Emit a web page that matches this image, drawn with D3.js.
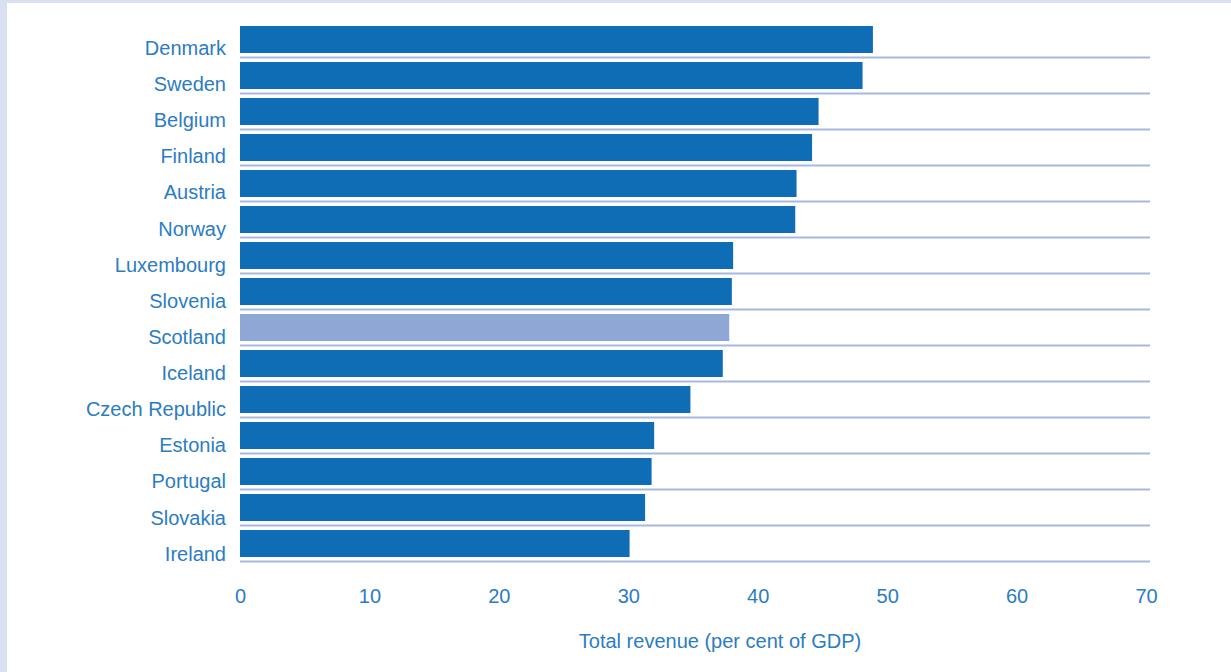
<!DOCTYPE html>
<html>
<head>
<meta charset="utf-8">
<script src="https://cdn.jsdelivr.net/npm/d3@7"></script>
<style>
  html, body { margin: 0; padding: 0; background: #ffffff; }
  svg { display: block; }
  text { font-family: "Liberation Sans", Arial, Helvetica, sans-serif; }
</style>
</head>
<body>
<svg id="chart" width="1231" height="672"></svg>
<script>
const countries = ["Denmark","Sweden","Belgium","Finland","Austria","Norway","Luxembourg","Slovenia","Scotland","Iceland","Czech Republic","Estonia","Portugal","Slovakia","Ireland"];
const revenue = [48.9, 48.1, 44.7, 44.2, 43.0, 42.9, 38.1, 38.0, 37.8, 37.3, 34.8, 32.0, 31.8, 31.3, 30.1];
const highlight = ["Scotland"];
const xTicks = [0, 10, 20, 30, 40, 50, 60, 70];
const xTitle = "Total revenue (per cent of GDP)";

const data = countries.map((c, i) => ({ country: c, value: revenue[i] }));

const svg = d3.select("#chart");
const W = 1231, H = 672;

// page background frame
svg.append("rect").attr("x", 0).attr("y", 0).attr("width", W).attr("height", H).attr("fill", "#d8e0f1");
svg.append("rect").attr("x", 7).attr("y", 3).attr("width", W - 7).attr("height", H - 3).attr("fill", "#ffffff");

const x = d3.scaleLinear().domain([0, 70]).range([240, 1146]);
const y = d3.scaleBand().domain(countries).range([21.5, 561.5]).paddingInner(0.25).paddingOuter(0.125);

const step = y.step();
const bw = y.bandwidth();

// gridlines below each bar
svg.append("g").selectAll("line").data(data).join("line")
  .attr("x1", x(0)).attr("x2", 1150)
  .attr("y1", d => y(d.country) + bw + (step - bw) / 2)
  .attr("y2", d => y(d.country) + bw + (step - bw) / 2)
  .attr("stroke", "#a8b9df").attr("stroke-width", 2);

// bars
svg.append("g").selectAll("rect").data(data).join("rect")
  .attr("x", x(0))
  .attr("y", d => y(d.country))
  .attr("width", d => x(d.value) - x(0))
  .attr("height", bw)
  .attr("fill", d => highlight.includes(d.country) ? "#8fa7d5" : "#0e6db5");

// category labels
svg.append("g").selectAll("text").data(data).join("text")
  .attr("x", 226)
  .attr("y", (d, i) => y(d.country) + 29 + i * 0.12)
  .attr("text-anchor", "end")
  .attr("font-size", 20)
  .attr("fill", "#2b7cc3")
  .text(d => d.country);

// x axis
const xAxis = d3.axisBottom(x).tickValues(xTicks).tickSize(0).tickPadding(0).tickFormat(d3.format("d"));
const gx = svg.append("g").attr("transform", "translate(0,588)").call(xAxis);
gx.select(".domain").remove();
gx.selectAll("text")
  .attr("font-size", 20)
  .attr("fill", "#2b7cc3")
  .attr("dy", "0.75em")
  .style("font-family", "'Liberation Sans', Arial, sans-serif");

svg.append("text")
  .attr("x", 720).attr("y", 648)
  .attr("text-anchor", "middle")
  .attr("font-size", 20)
  .attr("fill", "#2b7cc3")
  .text(xTitle);
</script>
</body>
</html>
